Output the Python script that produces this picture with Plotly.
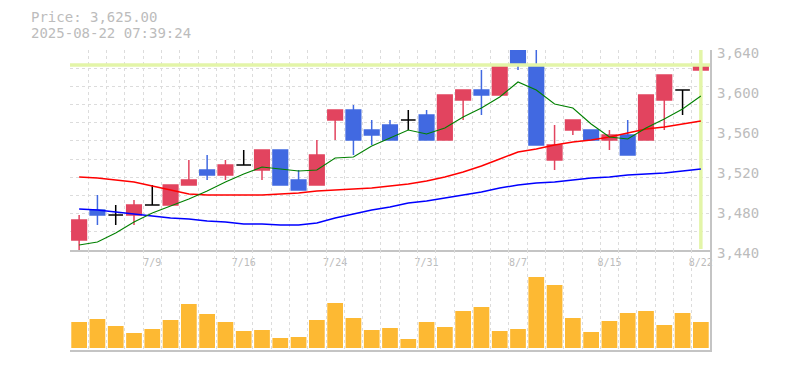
import plotly.graph_objects as go

# ---------------- data ----------------
dates = ["7/3", "7/4", "7/7", "7/8", "7/9", "7/10", "7/11", "7/14", "7/15", "7/16",
         "7/17", "7/18", "7/22", "7/23", "7/24", "7/25", "7/28", "7/29", "7/30", "7/31",
         "8/1", "8/4", "8/5", "8/6", "8/7", "8/8", "8/12", "8/13", "8/14", "8/15",
         "8/18", "8/19", "8/20", "8/21", "8/22"]
opens = [3450, 3480, 3475, 3475, 3485, 3485, 3505, 3520, 3515, 3525,
         3520, 3540, 3510, 3505, 3570, 3580, 3560, 3565, 3570, 3575,
         3550, 3590, 3600, 3595, 3645, 3625, 3530, 3560, 3560, 3550,
         3555, 3550, 3590, 3600, 3620]
highs = [3475, 3495, 3485, 3490, 3505, 3505, 3530, 3535, 3530, 3540,
         3540, 3540, 3520, 3550, 3580, 3585, 3570, 3570, 3580, 3580,
         3595, 3600, 3620, 3625, 3650, 3650, 3565, 3570, 3560, 3560,
         3570, 3595, 3615, 3600, 3645]
lows = [3440, 3465, 3465, 3465, 3485, 3485, 3505, 3510, 3510, 3525,
        3510, 3505, 3500, 3505, 3550, 3535, 3545, 3550, 3560, 3550,
        3550, 3570, 3575, 3595, 3620, 3545, 3520, 3555, 3550, 3540,
        3535, 3550, 3560, 3575, 3590]
closes = [3470, 3475, 3475, 3485, 3485, 3505, 3510, 3515, 3525, 3525,
          3540, 3505, 3500, 3535, 3580, 3550, 3555, 3550, 3570, 3550,
          3595, 3600, 3595, 3625, 3625, 3545, 3545, 3570, 3550, 3555,
          3535, 3595, 3615, 3600, 3625]
ma5 = [3445, 3448, 3457, 3468, 3477, 3484, 3491, 3499, 3508, 3516,
       3523, 3521, 3519, 3520, 3532, 3533, 3544, 3552, 3560, 3556,
       3562, 3573, 3582, 3593, 3608, 3600, 3586, 3582, 3566, 3553,
       3551, 3562, 3571, 3581, 3594]
ma25 = [3513, 3512, 3510, 3508, 3504, 3500, 3496, 3495, 3495, 3495,
        3495, 3496, 3497, 3499, 3500, 3501, 3502, 3504, 3506, 3509,
        3513, 3518, 3524, 3531, 3538, 3541, 3545, 3548, 3550, 3553,
        3557, 3561, 3563, 3566, 3569]
ma75 = [3481, 3480, 3478, 3476, 3474, 3472, 3471, 3469, 3468, 3466,
        3466, 3465, 3465, 3467, 3472, 3476, 3480, 3483, 3487, 3489,
        3492, 3495, 3498, 3502, 3505, 3507, 3508, 3510, 3512, 3513,
        3515, 3516, 3517, 3519, 3521]
volumes = [26000, 29000, 22000, 15000, 19000, 28000, 44000, 34000, 26000, 17000,
           18000, 10000, 11000, 28000, 45000, 30000, 18000, 20000, 9000, 26000,
           21000, 37000, 41000, 17000, 19000, 71000, 63000, 30000, 16000, 27000,
           35000, 37000, 23000, 35000, 26000]
x_tick_labels = ["7/9", "7/16", "7/24", "7/31", "8/7", "8/15", "8/22"]
y_tick_values = [3440, 3480, 3520, 3560, 3600, 3640]
title_price = "Price: 3,625.00"
title_time = "2025-08-22 07:39:24"

# ---------------- style ----------------
FONT = "DejaVu Sans Mono"
TXT = "#bcbcbc"
GRID = "#dcdcdc"
AXL = "#c4c4c4"
UP = "#e2445f"
DOWN = "#4169e1"
VOL = "#fdb933"
CUR = "#e3f5a8"
Y_RANGE = [3440, 3640]
N = len(dates)
xs = list(range(N))
X_RANGE = [-0.5, N - 0.5]

body_idx = [i for i in xs if opens[i] != closes[i]]
doji_idx = [i for i in xs if opens[i] == closes[i]]

fig = go.Figure()

# current price guides
fig.add_trace(go.Scatter(x=X_RANGE, y=[closes[-1], closes[-1]], mode="lines",
                         line=dict(color=CUR, width=3.5), hoverinfo="skip", showlegend=False))
fig.add_trace(go.Scatter(x=[xs[-1], xs[-1]], y=[Y_RANGE[0] + 1, Y_RANGE[1]], mode="lines",
                         line=dict(color=CUR, width=3.5), hoverinfo="skip", showlegend=False))

fig.add_trace(go.Candlestick(
    x=[xs[i] for i in body_idx],
    open=[opens[i] for i in body_idx], high=[highs[i] for i in body_idx],
    low=[lows[i] for i in body_idx], close=[closes[i] for i in body_idx],
    increasing=dict(line=dict(color=UP, width=1.5), fillcolor=UP),
    decreasing=dict(line=dict(color=DOWN, width=1.5), fillcolor=DOWN),
    whiskerwidth=0, showlegend=False))
fig.add_trace(go.Candlestick(
    x=[xs[i] for i in doji_idx],
    open=[opens[i] for i in doji_idx], high=[highs[i] for i in doji_idx],
    low=[lows[i] for i in doji_idx], close=[closes[i] for i in doji_idx],
    increasing=dict(line=dict(color="#000000", width=1.5), fillcolor="#000000"),
    decreasing=dict(line=dict(color="#000000", width=1.5), fillcolor="#000000"),
    whiskerwidth=0, showlegend=False))

fig.add_trace(go.Scatter(x=xs, y=ma75, mode="lines", line=dict(color="#0000ff", width=1.5),
                         showlegend=False))
fig.add_trace(go.Scatter(x=xs, y=ma25, mode="lines", line=dict(color="#ff0000", width=1.5),
                         showlegend=False))
fig.add_trace(go.Scatter(x=xs, y=ma5, mode="lines", line=dict(color="#008000", width=1.1),
                         showlegend=False))

fig.add_trace(go.Bar(x=xs, y=volumes, xaxis="x2", yaxis="y2", width=0.86,
                     marker=dict(color=VOL, line=dict(width=0)), showlegend=False))

# give the label axis something to anchor to
fig.add_trace(go.Scatter(x=[None], y=[None], yaxis="y3", showlegend=False, hoverinfo="skip"))

grid_x = [i - 0.5 for i in range(N + 1)]
grid_y = [Y_RANGE[0] + i * (Y_RANGE[1] - Y_RANGE[0]) / 11 for i in range(12)]

xcommon = dict(range=X_RANGE, showgrid=False, zeroline=False, ticks="", automargin=False,
               showline=True, linecolor=AXL, linewidth=1.5,
               minor=dict(tickmode="array", tickvals=grid_x, showgrid=True,
                          gridcolor=GRID, gridwidth=1, griddash="3px,3px", ticks=""))

fig.update_layout(
    template="none",
    width=785, height=370,
    margin=dict(l=70, r=75, t=50, b=20, autoexpand=False),
    paper_bgcolor="white", plot_bgcolor="white",
    boxgap=0.2, boxgroupgap=0,
    showlegend=False,
    xaxis=dict(**xcommon, anchor="y", domain=[0, 1],
               tickmode="array", tickvals=[dates.index(t) for t in x_tick_labels],
               ticktext=x_tick_labels, tickfont=dict(family=FONT, size=10, color=TXT),
               ticklabelstandoff=2,
               rangeslider=dict(visible=False)),
    xaxis2=dict(**xcommon, anchor="y2", domain=[0, 1], matches="x", showticklabels=False),
    yaxis=dict(domain=[1 / 3, 1], range=Y_RANGE, side="right", anchor="x", automargin=False,
               tickmode="array", tickvals=grid_y, showticklabels=False, ticks="",
               showgrid=True, gridcolor=GRID, gridwidth=1, griddash="3px,3px",
               zeroline=False, showline=True, linecolor=AXL, linewidth=1.5),
    yaxis3=dict(overlaying="y", range=Y_RANGE, side="right", anchor="x", automargin=False,
                tickmode="array", tickvals=y_tick_values,
                ticktext=[f"{v:,}" for v in y_tick_values],
                tickfont=dict(family=FONT, size=14, color=TXT),
                ticklabelshift=3, ticklabelstandoff=6,
                showgrid=False, zeroline=False, showline=False, ticks=""),
    yaxis2=dict(domain=[0, 1 / 3], range=[-2000, 98000], side="right", anchor="x2",
                automargin=False,
                showgrid=False, showticklabels=False, zeroline=False, ticks="",
                showline=True, linecolor=AXL, linewidth=1.5),
    annotations=[
        dict(text=title_price, xref="paper", yref="paper", x=-40 / 640, y=(350 - 17) / 300,
             xanchor="left", yanchor="middle", showarrow=False, borderpad=0,
             font=dict(family=FONT, size=14, color=TXT)),
        dict(text=title_time, xref="paper", yref="paper", x=-40 / 640, y=(350 - 33) / 300,
             xanchor="left", yanchor="middle", showarrow=False, borderpad=0,
             font=dict(family=FONT, size=14, color=TXT)),
    ],
)

fig.write_html("out.html", config={"displayModeBar": False},
               post_script="document.body.style.margin='0px';")
